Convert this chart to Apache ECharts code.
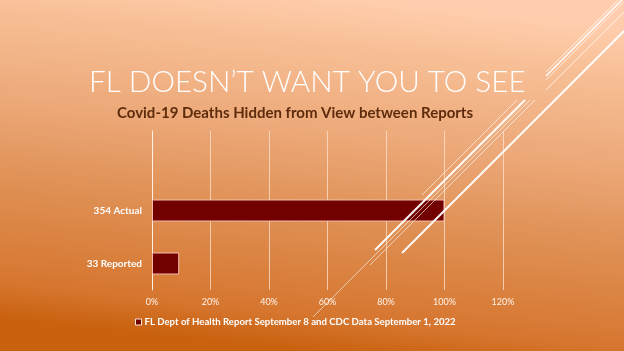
<!DOCTYPE html>
<html>
<head>
<meta charset="utf-8">
<script src="https://cdn.jsdelivr.net/npm/echarts@6/dist/echarts.min.js"></script>
<style>html,body{margin:0;padding:0;}#c{width:624px;height:351px;}</style>
</head>
<body>
<div id="c"></div>
<script>
// ---- data ----
var categories = ['33 Reported', '354 Actual', ''];
var percentValues = [9.3, 100, null];
var seriesName = 'FL Dept of Health Report September 8 and CDC Data September 1, 2022';
var xTicks = [0, 20, 40, 60, 80, 100, 120];
var titleText = 'FL DOESN\u2019T WANT YOU TO SEE';
var subtitleText = 'Covid-19 Deaths Hidden from View between Reports';

var chart = echarts.init(document.getElementById('c'));

function deco(x1, y1, x2, y2, w, op) {
  return { type: 'line', silent: true, z: 10,
    shape: { x1: x1, y1: y1, x2: x2, y2: y2 },
    style: { stroke: 'rgba(255,255,255,' + op + ')', lineWidth: w } };
}

chart.setOption({
  backgroundColor: new echarts.graphic.LinearGradient(0.56, 0, 0.5, 1, [
    { offset: 0, color: '#ffcdad' },
    { offset: 0.1, color: '#f9c29a' },
    { offset: 0.41, color: '#eba675' },
    { offset: 0.6, color: '#e09257' },
    { offset: 0.9, color: '#d6762f' },
    { offset: 1, color: '#c9610f' }
  ]),
  title: [
    { text: titleText, left: 84, top: 62,
      textStyle: { color: '#ffffff', fontSize: 29.7, fontWeight: 300, fontFamily: 'Lato' } },
    { text: subtitleText, left: 112, top: 101,
      textStyle: { color: '#5e2c0c', fontSize: 15, fontWeight: 'bold', fontFamily: 'Lato' } }
  ],
  legend: {
    left: 130, top: 312, itemWidth: 6, itemHeight: 6, icon: 'rect', itemGap: 4,
    itemStyle: { borderColor: '#ffe8dc', borderWidth: 1 },
    textStyle: { color: '#ffffff', fontSize: 9.6, fontWeight: 'bold', fontFamily: 'Lato', padding: [0, 0, 0, -2] },
    data: [seriesName]
  },
  grid: { left: 152, right: 121, top: 131, bottom: 61, containLabel: false },
  xAxis: {
    type: 'value', min: 0, max: 120, interval: 20,
    axisLine: { show: false }, axisTick: { show: false },
    splitLine: { show: true, lineStyle: { color: 'rgba(255,225,205,0.75)', width: 1 } },
    axisLabel: { color: '#fff4ec', fontSize: 9, fontFamily: 'Lato', margin: 8,
      formatter: function (v) { return xTicks.indexOf(v) >= 0 ? v + '%' : ''; } }
  },
  yAxis: {
    type: 'category', data: categories,
    axisLine: { show: true, lineStyle: { color: '#fff0e6', width: 1 } },
    axisTick: { show: false },
    axisLabel: { color: '#ffffff', fontSize: 10, fontWeight: 'bold', fontFamily: 'Lato', margin: 10 }
  },
  series: [{
    name: seriesName, type: 'bar', data: percentValues, barWidth: 22,
    itemStyle: { color: '#720000', borderColor: '#f2bcae', borderWidth: 1 }
  }],
  graphic: [
    deco(546, 72, 618, 0, 1, 0.7),
    deco(546, 76, 622, 0, 1.5, 0.95),
    deco(546, 80, 624, 2, 1, 0.6),
    deco(546, 90, 624, 12, 1, 0.7),
    deco(402, 253, 624, 31, 2, 0.95),
    deco(422, 195, 517, 100, 1, 0.6),
    deco(375, 250, 525, 100, 2, 0.95),
    deco(370, 265, 535, 100, 1, 0.6),
    deco(313, 317, 530, 100, 1, 0.6)
  ]
});
</script>
</body>
</html>
